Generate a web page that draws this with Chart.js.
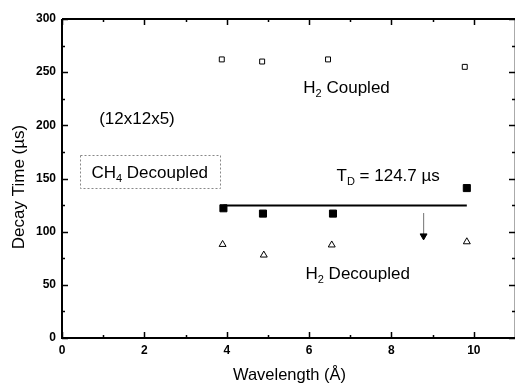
<!DOCTYPE html>
<html>
<head>
<meta charset="utf-8">
<script src="https://cdn.jsdelivr.net/npm/chart.js@4"></script>
<style>
  html, body { margin: 0; padding: 0; background: #fff; }
  #wrap { width: 521px; height: 385px; position: relative; }
</style>
</head>
<body>
<div id="wrap"><canvas id="chart"></canvas></div>
<script>
// tick labels
const xTicks = [0, 2, 4, 6, 8, 10];
const yTicks = [0, 50, 100, 150, 200, 250, 300];
const xMinor = [1, 3, 5, 7, 9];
const yMinor = [25, 75, 125, 175, 225, 275];

// series (wavelength in Å, decay time in µs)
const coupledX = [3.88, 4.86, 6.46, 9.78];
const coupledY = [262, 260, 262, 255];
const ch4DecX = [3.92, 4.88, 6.58, 9.83];
const ch4DecY = [122, 117, 117, 141];
const h2DecX = [3.9, 4.9, 6.55, 9.83];
const h2DecY = [88, 78, 87.5, 90.5];
const tdValue = 124.7;
const tdX = [3.92, 9.83];
const arrowX = [8.78, 8.78];
const arrowY = [117.5, 96];

const pts = (xs, ys) => xs.map((x, i) => ({ x: x, y: ys[i] }));

// text notes placed in data units
const notes = [
  { parts: [['(12x12x5)']], x: 1.82, y: 207 },
  { parts: [['H'], ['2', true], [' Coupled']], x: 6.91, y: 236 },
  { parts: [['T'], ['D', true], [' = 124.7 µs']], x: 7.92, y: 153 },
  { parts: [['H'], ['2', true], [' Decoupled']], x: 7.18, y: 61 },
  { parts: [['CH'], ['4', true], [' Decoupled']], x: 2.13, y: 156 }
];
const noteBox = { x0: 0.43, x1: 3.83, y0: 172, y1: 141 };

const FONT = '"Liberation Sans", Arial, sans-serif';

const framePlugin = {
  id: 'frame',
  afterDatasetsDraw(chart) {
    const { ctx, chartArea: a, scales: { x, y } } = chart;
    ctx.save();

    // dotted box round the CH4 label
    ctx.strokeStyle = '#888';
    ctx.lineWidth = 1;
    ctx.setLineDash([2, 2]);
    const bx0 = Math.round(x.getPixelForValue(noteBox.x0)) + 0.5;
    const bx1 = Math.round(x.getPixelForValue(noteBox.x1)) + 0.5;
    const by0 = Math.round(y.getPixelForValue(noteBox.y0)) + 0.5;
    const by1 = Math.round(y.getPixelForValue(noteBox.y1)) + 0.5;
    ctx.strokeRect(bx0, by0, bx1 - bx0, by1 - by0);
    ctx.setLineDash([]);

    // notes with subscripts
    ctx.fillStyle = '#000';
    ctx.textBaseline = 'alphabetic';
    notes.forEach(n => {
      let w = 0;
      n.parts.forEach(p => {
        ctx.font = p[1] ? '11px ' + FONT : '17px ' + FONT;
        w += ctx.measureText(p[0]).width;
      });
      let cx = x.getPixelForValue(n.x) - w / 2;
      const cy = y.getPixelForValue(n.y) + 6;
      n.parts.forEach(p => {
        ctx.font = p[1] ? '11px ' + FONT : '17px ' + FONT;
        ctx.fillText(p[0], cx, p[1] ? cy + 4 : cy);
        cx += ctx.measureText(p[0]).width;
      });
    });

    // axes frame
    ctx.strokeStyle = '#aaa';
    ctx.lineWidth = 1;
    ctx.beginPath();
    ctx.moveTo(a.right - 0.5, a.top);
    ctx.lineTo(a.right - 0.5, a.bottom);
    ctx.stroke();

    ctx.strokeStyle = '#000';
    ctx.lineWidth = 2;
    ctx.beginPath();
    ctx.moveTo(a.left, a.top);
    ctx.lineTo(a.right, a.top);
    ctx.moveTo(a.left, a.top);
    ctx.lineTo(a.left, a.bottom);
    ctx.moveTo(a.left - 1, a.bottom);
    ctx.lineTo(a.right, a.bottom);
    ctx.stroke();

    // inward ticks
    ctx.lineWidth = 1.5;
    ctx.beginPath();
    const xt = (vals, len) => vals.forEach(v => {
      const px = Math.round(x.getPixelForValue(v)) + 0.5;
      ctx.moveTo(px, a.bottom); ctx.lineTo(px, a.bottom - len);
      ctx.moveTo(px, a.top); ctx.lineTo(px, a.top + len);
    });
    const yt = (vals, len) => vals.forEach(v => {
      const py = Math.round(y.getPixelForValue(v)) + 0.5;
      ctx.moveTo(a.left, py); ctx.lineTo(a.left + len, py);
      ctx.moveTo(a.right, py); ctx.lineTo(a.right - len, py);
    });
    xt(xTicks, 6); xt(xMinor, 3);
    yt(yTicks, 6); yt(yMinor, 3);
    ctx.stroke();

    // axis titles
    ctx.font = '16.5px ' + FONT;
    ctx.textAlign = 'center';
    ctx.textBaseline = 'middle';
    ctx.fillText('Wavelength (Å)', (a.left + a.right) / 2 + 1, 375);
    ctx.translate(19, 187);
    ctx.rotate(-Math.PI / 2);
    ctx.font = '17px ' + FONT;
    ctx.fillText('Decay Time (µs)', 0, 0);
    ctx.restore();
  }
};

new Chart(document.getElementById('chart'), {
  type: 'scatter',
  data: {
    datasets: [
      {
        label: 'H2 Coupled',
        data: pts(coupledX, coupledY),
        pointStyle: 'rect', pointRadius: 3.5,
        borderColor: '#000', backgroundColor: '#fff', borderWidth: 1
      },
      {
        label: 'CH4 Decoupled',
        data: pts(ch4DecX, ch4DecY),
        pointStyle: 'rect', pointRadius: 5,
        borderColor: '#000', backgroundColor: '#000', borderWidth: 1
      },
      {
        label: 'H2 Decoupled',
        data: pts(h2DecX, h2DecY),
        pointStyle: 'triangle', pointRadius: 4,
        borderColor: '#000', backgroundColor: '#fff', borderWidth: 1
      },
      {
        label: 'TD',
        data: tdX.map(v => ({ x: v, y: tdValue })),
        showLine: true, pointRadius: 0,
        borderColor: '#000', borderWidth: 2
      },
      {
        label: 'arrow',
        data: pts(arrowX, arrowY),
        showLine: true, borderColor: '#888', borderWidth: 1,
        pointRadius: [0, 4], pointStyle: 'triangle', rotation: 180,
        pointBackgroundColor: '#000', pointBorderColor: '#000'
      }
    ]
  },
  options: {
    responsive: true,
    maintainAspectRatio: false,
    animation: false,
    devicePixelRatio: 1,
    layout: { padding: { top: 19, right: 0, left: 0, bottom: 0 } },
    plugins: { legend: { display: false }, tooltip: { enabled: false } },
    scales: {
      x: {
        type: 'linear', min: 0, max: 11,
        grid: { display: false, drawTicks: false },
        border: { display: false },
        afterBuildTicks: s => { s.ticks = xTicks.map(v => ({ value: v })); },
        afterFit: s => { s.height = 47; },
        ticks: {
          padding: 5, maxRotation: 0, color: '#000',
          font: { family: FONT, size: 12, weight: 'bold' }
        }
      },
      y: {
        type: 'linear', min: 0, max: 300,
        grid: { display: false, drawTicks: false },
        border: { display: false },
        afterBuildTicks: s => { s.ticks = yTicks.map(v => ({ value: v })); },
        afterFit: s => { s.width = 62; },
        ticks: {
          padding: 6, color: '#000',
          font: { family: FONT, size: 12, weight: 'bold' }
        }
      }
    }
  },
  plugins: [framePlugin]
});
</script>
</body>
</html>
